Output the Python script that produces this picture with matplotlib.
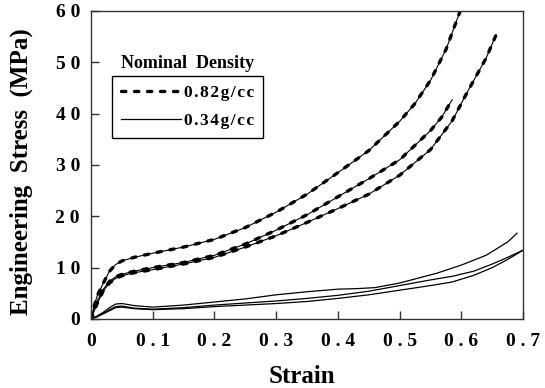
import matplotlib
matplotlib.use("Agg")
import matplotlib.pyplot as plt

plt.rcParams['font.family'] = ['Liberation Serif', 'DejaVu Serif']
plt.rcParams['font.weight'] = 'bold'

# -----------------------------
# Data
# -----------------------------
# 0.82 g/cc specimens (dashed)
strain_a = [0, 0.005, 0.01, 0.02, 0.03, 0.04, 0.05, 0.07, 0.1, 0.15, 0.2, 0.25,
            0.3, 0.35, 0.4, 0.45, 0.5, 0.525, 0.55, 0.575, 0.598]
stress_a = [0, 2.5, 4.5, 7.0, 9.3, 10.6, 11.3, 12.0, 12.8, 14.0, 15.5, 17.8,
            20.8, 24.3, 28.5, 32.8, 38.5, 42.0, 46.5, 52.5, 60.0]

strain_b = [0, 0.005, 0.01, 0.02, 0.03, 0.04, 0.05, 0.07, 0.1, 0.15, 0.2, 0.25,
            0.3, 0.35, 0.4, 0.45, 0.5, 0.55, 0.568, 0.585]
stress_b = [0, 2.0, 3.5, 5.8, 7.3, 8.2, 8.7, 9.3, 10.0, 11.0, 12.4, 14.6,
            17.3, 20.3, 23.8, 27.3, 31.0, 36.7, 39.3, 42.7]

strain_c = [0, 0.005, 0.01, 0.02, 0.03, 0.04, 0.05, 0.07, 0.1, 0.15, 0.2, 0.25,
            0.3, 0.35, 0.4, 0.45, 0.5, 0.55, 0.585, 0.61, 0.64, 0.656]
stress_c = [0, 1.5, 3.0, 5.5, 7.0, 7.9, 8.4, 9.0, 9.6, 10.7, 12.0, 14.0,
            16.2, 18.8, 21.5, 24.3, 28.0, 33.0, 38.6, 44.3, 50.8, 55.3]

# 0.34 g/cc specimens (thin solid)
strain_t1 = [0, 0.01, 0.02, 0.03, 0.04, 0.05, 0.07, 0.1, 0.15, 0.2, 0.25, 0.3,
             0.35, 0.4, 0.43, 0.46, 0.5, 0.56, 0.6, 0.64, 0.675, 0.69]
stress_t1 = [0, 0.6, 1.3, 2.2, 2.9, 3.0, 2.6, 2.3, 2.7, 3.3, 3.9, 4.7,
             5.3, 5.8, 5.9, 6.1, 7.0, 8.9, 10.5, 12.4, 15.0, 16.7]

strain_t2 = [0, 0.01, 0.02, 0.03, 0.04, 0.05, 0.07, 0.1, 0.15, 0.2, 0.25, 0.3,
             0.35, 0.4, 0.45, 0.5, 0.55, 0.585, 0.62, 0.65, 0.675, 0.7]
stress_t2 = [0, 0.5, 1.1, 1.8, 2.4, 2.5, 2.1, 1.9, 2.2, 2.7, 3.1, 3.5,
             4.0, 4.6, 5.4, 6.5, 7.6, 8.3, 9.3, 10.7, 12.0, 13.4]

strain_t3 = [0, 0.01, 0.02, 0.03, 0.04, 0.05, 0.07, 0.1, 0.15, 0.2, 0.25, 0.3,
             0.35, 0.4, 0.45, 0.5, 0.55, 0.585, 0.62, 0.65, 0.675, 0.7]
stress_t3 = [0, 0.4, 1.0, 1.6, 2.2, 2.3, 2.0, 1.8, 2.0, 2.4, 2.7, 3.0,
             3.4, 4.0, 4.7, 5.6, 6.5, 7.2, 8.5, 10.0, 11.6, 13.4]

x_ticks = [0, 0.1, 0.2, 0.3, 0.4, 0.5, 0.6, 0.7]
x_tick_labels = ["0", "0 . 1", "0 . 2", "0 . 3", "0 . 4", "0 . 5", "0 . 6", "0 . 7"]
y_ticks = [0, 10, 20, 30, 40, 50, 60]
y_tick_labels = ["0", "1 0", "2 0", "3 0", "4 0", "5 0", "6 0"]

dense_label = "0.82g/cc"
light_label = "0.34g/cc"


def spaced(s):
    # the original typesetting has loose letter spacing
    return "\u200a".join(s)


# -----------------------------
# Plot
# -----------------------------
fig = plt.figure(figsize=(5.45, 3.88), dpi=100)
ax = fig.add_axes([0.167, 0.178, 0.793, 0.794])

dash_style = dict(color='black', lw=2.4, dashes=(1.3, 2.6),
                  dash_capstyle='round')
dense_handle = None
for xs, ys in [(strain_a, stress_a), (strain_b, stress_b), (strain_c, stress_c)]:
    ax.plot(xs, ys, color='black', lw=0.8)
    dense_handle, = ax.plot(xs, ys, **dash_style)

light_handle = None
for xs, ys in [(strain_t1, stress_t1), (strain_t2, stress_t2), (strain_t3, stress_t3)]:
    light_handle, = ax.plot(xs, ys, color='black', lw=0.9)

ax.set_xlim(0, 0.7)
ax.set_ylim(0, 60)
ax.set_xticks(x_ticks, x_tick_labels)
ax.set_yticks(y_ticks, y_tick_labels)
ax.tick_params(direction='in', length=6, width=1, labelsize=14, color='#333333')
ax.tick_params(axis='x', pad=10)
ax.tick_params(axis='y', pad=8)
for sp in ax.spines.values():
    sp.set_linewidth(1.0)
    sp.set_color('#333333')

ax.set_xlabel("Strain", fontsize=18, fontweight='bold')
ax.xaxis.set_label_coords(0.487, -0.148)
ax.set_ylabel("Engineering  Stress  (MPa)", fontsize=18, fontweight='bold')
ax.yaxis.set_label_coords(-0.135, 0.477)

leg = ax.legend([dense_handle, light_handle],
                [spaced(dense_label), spaced(light_label)],
                loc='upper left', bbox_to_anchor=(0.0486, 0.789),
                borderaxespad=0, fancybox=False, framealpha=1,
                edgecolor='black', fontsize=12.5, handlelength=3.5,
                handletextpad=0.15, borderpad=0.5, labelspacing=0.7)
leg.get_frame().set_linewidth(1.0)
ax.text(0.2245, 0.828, "Nominal  Density", transform=ax.transAxes,
        ha='center', va='center', fontsize=13, fontweight='bold')

fig.savefig("out.png", dpi=100)
